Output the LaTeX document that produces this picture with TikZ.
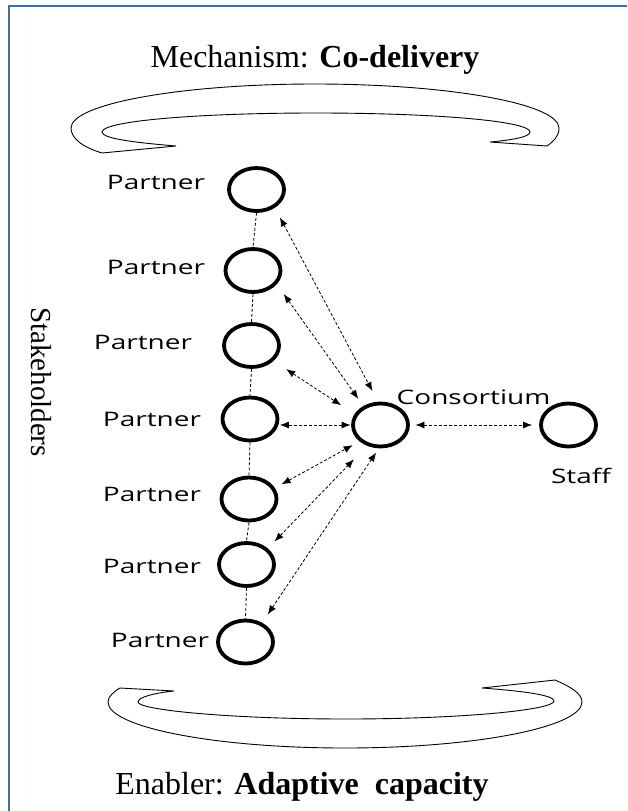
\documentclass[tikz,border=0pt]{standalone}
\usepackage{fontspec}
\setmainfont{Liberation Serif}
\newfontfamily\labelfont{Open Sans}
\usepackage{graphicx}
\usetikzlibrary{shapes.geometric,arrows.meta}
\definecolor{framecol}{RGB}{68,108,170}
\tikzset{
  party/.style={ellipse, draw, line width=3.8pt, minimum width=55pt, minimum height=43pt, inner sep=0pt},
  lbl/.style={anchor=base, inner sep=0pt, font=\labelfont\fontsize{20}{24}\selectfont},
  dashlink/.style={line width=0.8pt, dash pattern=on 3pt off 2pt},
  dlink/.style={dashlink, {Latex[length=9pt,width=7pt]}-{Latex[length=9pt,width=7pt]}},
  headtext/.style={anchor=base, inner sep=0pt, font=\fontsize{32}{38}\selectfont},
  uturn/.style={line width=0.9pt, line join=miter}
}
\begin{document}
\begin{tikzpicture}[x=1pt, y=-1pt]
\useasboundingbox (0,0) rectangle (627,811);
% frame
\draw[framecol, line width=2pt] (9,811) -- (9,6) -- (627,6);

% titles
\node[headtext] (mech) at (315,67) {Mechanism: \textbf{Co-delivery}};
\node[headtext] (enab) at (302,794) {Enabler: \textbf{Adaptive\ \ capacity}};
\node[rotate=-90, inner sep=0pt, font=\fontsize{29}{34}\selectfont] (stake) at (41,382) {Stakeholders};

% top U-turn shape
\draw[uturn] (102,153) .. controls (82,147) and (71,138) .. (71,128)
  .. controls (71,104) and (180,84) .. (315,84)
  .. controls (450,84) and (559,104) .. (559,128)
  .. controls (559,136) and (554,141) .. (547,146)
  -- (490,142)
  .. controls (512,140) and (530,137) .. (530,132)
  .. controls (530,121) and (434,113) .. (316,113)
  .. controls (198,113) and (102,121) .. (102,132)
  .. controls (102,139) and (140,143) .. (176,146)
  -- cycle;

% bottom U-turn shape
\draw[uturn] (120,688) .. controls (113,692) and (108,697) .. (108,702)
  .. controls (108,727) and (214,748) .. (345,748)
  .. controls (476,748) and (582,727) .. (582,702)
  .. controls (582,693) and (569,686) .. (555,680)
  -- (482,688)
  .. controls (522,691) and (554,695) .. (554,701)
  .. controls (554,710) and (461,719) .. (346,719)
  .. controls (231,719) and (138,710) .. (138,702)
  .. controls (138,697) and (155,693) .. (174,691)
  -- cycle;

% partners
\node[party] (p1) at (256.5,189.5) {};
\node[party] (p2) at (253,270.5) {};
\node[party] (p3) at (251.5,345.5) {};
\node[party] (p4) at (250,419) {};
\node[party] (p5) at (249,499) {};
\node[party] (p6) at (246.5,564.5) {};
\node[party] (p7) at (245.5,642) {};
\node[party] (c) at (380.5,425) {};
\node[party] (s) at (568.5,425) {};

% labels
\node[lbl] (l1) at (156,189) {\scalebox{1.4}[1]{Partner}};
\node[lbl] (l2) at (156,274) {\scalebox{1.4}[1]{Partner}};
\node[lbl] (l3) at (143,349) {\scalebox{1.4}[1]{Partner}};
\node[lbl] (l4) at (152,426) {\scalebox{1.4}[1]{Partner}};
\node[lbl] (l5) at (152,501) {\scalebox{1.4}[1]{Partner}};
\node[lbl] (l6) at (152,573) {\scalebox{1.4}[1]{Partner}};
\node[lbl] (l7) at (160,647) {\scalebox{1.4}[1]{Partner}};
\node[lbl] (lc) at (473.5,404) {\scalebox{1.4}[1]{Consortium}};
\node[lbl] (ls) at (581,483) {\scalebox{1.4}[1]{Staff}};

% vertical dashed links
\draw[dashlink] (p1.south) -- (p2.north);
\draw[dashlink] (p2.south) -- (p3.north);
\draw[dashlink] (p3.south) -- (p4.north);
\draw[dashlink] (p4.south) -- (p5.north);
\draw[dashlink] (p5.south) -- (p6.north);
\draw[dashlink] (p6.south) -- (p7.north);

% arrows to consortium
\draw[dlink, shorten <=10.8pt, shorten >=12pt] (p1.-45) -- (c.96.5);
\draw[dlink, shorten <=12pt, shorten >=8.7pt] (p2.-30.5) -- (c.132.6);
\draw[dlink, shorten <=15pt, shorten >=16pt] (p3.-35) -- (c.157.3);
\draw[dlink, shorten <=0.5pt, shorten >=0.5pt] (p4.east |- c) -- (c.west);
\draw[dlink, shorten <=7.6pt, shorten >=7.8pt] (p5.23) -- (c.-142);
\draw[dlink, shorten <=9.6pt, shorten >=18.8pt] (p6.37) -- (c.-123.7);
\draw[dlink, shorten <=10pt, shorten >=5pt] (p7.49.6) -- (c.-94);
\draw[dlink, shorten <=5.5pt, shorten >=7pt] (c.east) -- (s.west);
\end{tikzpicture}
\end{document}
